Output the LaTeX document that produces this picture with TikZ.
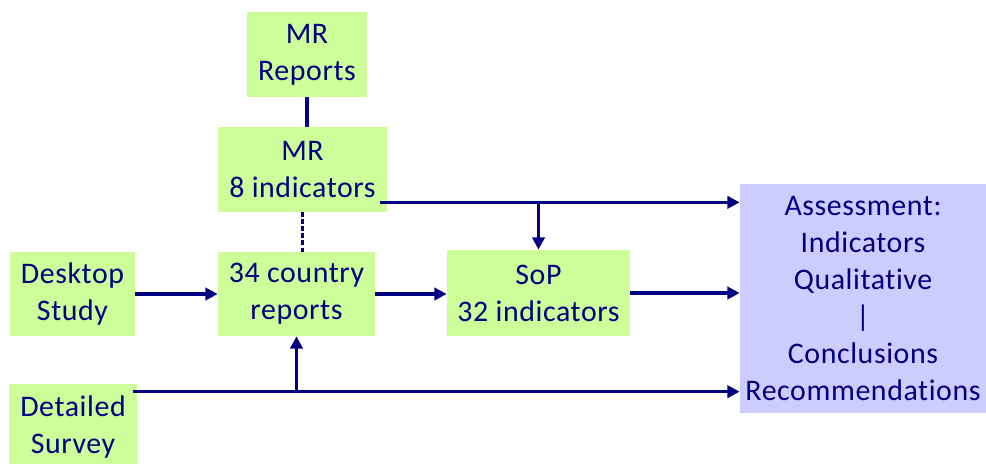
\documentclass[tikz,border=0pt]{standalone}
\usepackage{fontspec}
\setmainfont{Carlito}[Ligatures=NoCommon,LetterSpace=2]
\usetikzlibrary{arrows.meta,positioning}
\definecolor{boxgreen}{HTML}{CCFF99}
\definecolor{boxlilac}{HTML}{CCCCFF}
\definecolor{navyblue}{HTML}{000080}
\begin{document}
\begin{tikzpicture}[every node/.style={fill=boxgreen,text=navyblue,align=center,inner sep=0pt,
        font=\fontsize{17}{21}\selectfont},
        flow/.style={draw=navyblue,line width=1.8pt,-{Triangle[length=7pt,width=7pt]}},
        link/.style={draw=navyblue,line width=1.8pt}]
        \useasboundingbox (0,0) rectangle (19.72,-9.26);

        \node[minimum width=2.4cm,minimum height=1.7cm] (MRrep) at (6.14,-1.09) {MR\\Reports};
        \node[minimum width=3.38cm,minimum height=1.7cm] (MR) at (6.05,-3.39) {MR\\8 indicators};
        \node[minimum width=2.5cm,minimum height=1.68cm] (desk) at (1.45,-5.88) {Desktop\\Study};
        \node[minimum width=3.14cm,minimum height=1.68cm] (ctry) at (5.93,-5.88) {34 country\\reports};
        \node[minimum width=3.66cm,minimum height=1.72cm] (sop) at (10.77,-5.86) {SoP\\32 indicators};
        \node[minimum width=2.56cm,minimum height=1.72cm] (survey) at (1.46,-8.54) {Detailed\\Survey};
        \node[fill=boxlilac,minimum width=4.92cm,minimum height=4.58cm] (assess) at (17.26,-5.97)
        {Assessment:\\Indicators\\Qualitative\\|\\Conclusions\\Recommendations};

        \coordinate (mrout) at ([xshift=-0.14cm,yshift=0.2cm]MR.south east);
        \coordinate (svout) at ([xshift=-0.08cm,yshift=-0.16cm]survey.north east);

        \draw[link] (MRrep.south) -- (MRrep.south |- MR.north);
        \draw[link,dash pattern=on 2.5pt off 1.5pt] (MR.south) -- (MR.south |- ctry.north);

        \draw[flow] (mrout) -- (mrout -| assess.west);
        \draw[flow] (sop.north |- mrout) -- (sop.north);

        \draw[flow] (desk.east) -- (desk.east -| ctry.west);
        \draw[flow] (ctry.east) -- (ctry.east -| sop.west);
        \draw[flow] (sop.east) -- (sop.east -| assess.west);

        \draw[flow] (svout) -- (svout -| assess.west);
        \draw[flow] (ctry.south |- svout) -- (ctry.south);
\end{tikzpicture}
\end{document}
